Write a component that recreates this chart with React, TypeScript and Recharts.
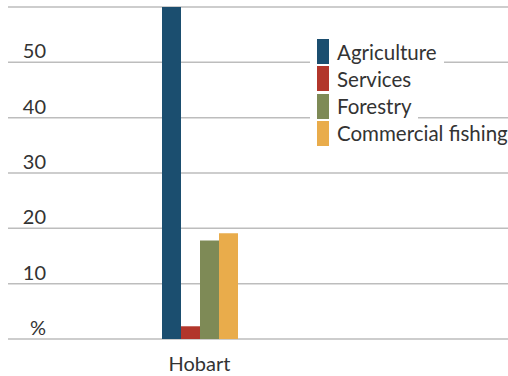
import React from 'react';
import { BarChart, Bar, XAxis, YAxis, CartesianGrid } from 'recharts';

const categories = ['Hobart'];
const agriculture = [60];
const services = [2.3];
const forestry = [17.8];
const commercialFishing = [19.1];
const yTicks = [0, 10, 20, 30, 40, 50, 60];

const seriesNames = ['Agriculture', 'Services', 'Forestry', 'Commercial fishing'];
const seriesKeys = ['agriculture', 'services', 'forestry', 'fishing'];
const colors = ['#1b4e6f', '#b2362b', '#7e8a56', '#e9ac4b'];

const data = categories.map((name, i) => ({
  name,
  agriculture: agriculture[i],
  services: services[i],
  forestry: forestry[i],
  fishing: commercialFishing[i],
}));

const textColor = '#333';
const fontFamily = 'Lato, sans-serif';

const YTick = ({ y, payload }: any) => {
  if (payload.value === 60) return null;
  const label = payload.value === 0 ? '%' : String(payload.value);
  return (
    <text x={46} y={y - 4} textAnchor="end" fill={textColor} fontSize={20} fontFamily={fontFamily}>
      {label}
    </text>
  );
};

const XTick = ({ x, payload }: any) => (
  <text x={x} y={371} textAnchor="middle" fill={textColor} fontSize={20} fontFamily={fontFamily}>
    {payload.value}
  </text>
);

const ChartLegend = () => (
  <div style={{ position: 'absolute', left: 310, top: 39, fontFamily }}>
    {seriesNames.map((name, i) => (
      <div key={name} style={{ height: 27.3 }}>
        <div
          style={{
            display: 'inline-flex',
            alignItems: 'center',
            background: '#fff',
            paddingLeft: 7,
            paddingRight: 7,
            height: 25,
          }}
        >
          <span style={{ width: 12, height: 25, background: colors[i], marginRight: 8 }} />
          <span style={{ fontSize: 20.5, color: textColor, whiteSpace: 'nowrap' }}>{name}</span>
        </div>
      </div>
    ))}
  </div>
);

export default function App() {
  return (
    <div style={{ position: 'relative', width: 508, height: 376, overflow: 'hidden', background: '#fff' }}>
      <style>{'body { margin: 0; }'}</style>
      <BarChart
        width={508}
        height={376}
        data={data}
        margin={{ top: 7, right: 0, left: 8, bottom: 0 }}
        barGap={0}
      >
        <CartesianGrid vertical={false} stroke="#bdbdbd" strokeWidth={1.5} />
        <XAxis
          dataKey="name"
          axisLine={false}
          tickLine={false}
          height={37}
          padding={{ left: 0, right: 117 }}
          tick={<XTick />}
        />
        <YAxis
          domain={[0, 60]}
          ticks={yTicks}
          axisLine={false}
          tickLine={false}
          mirror
          tick={<YTick />}
        />
        {seriesKeys.map((k, i) => (
          <Bar key={k} dataKey={k} name={seriesNames[i]} fill={colors[i]} barSize={19} isAnimationActive={false} />
        ))}
      </BarChart>
      <ChartLegend />
    </div>
  );
}
